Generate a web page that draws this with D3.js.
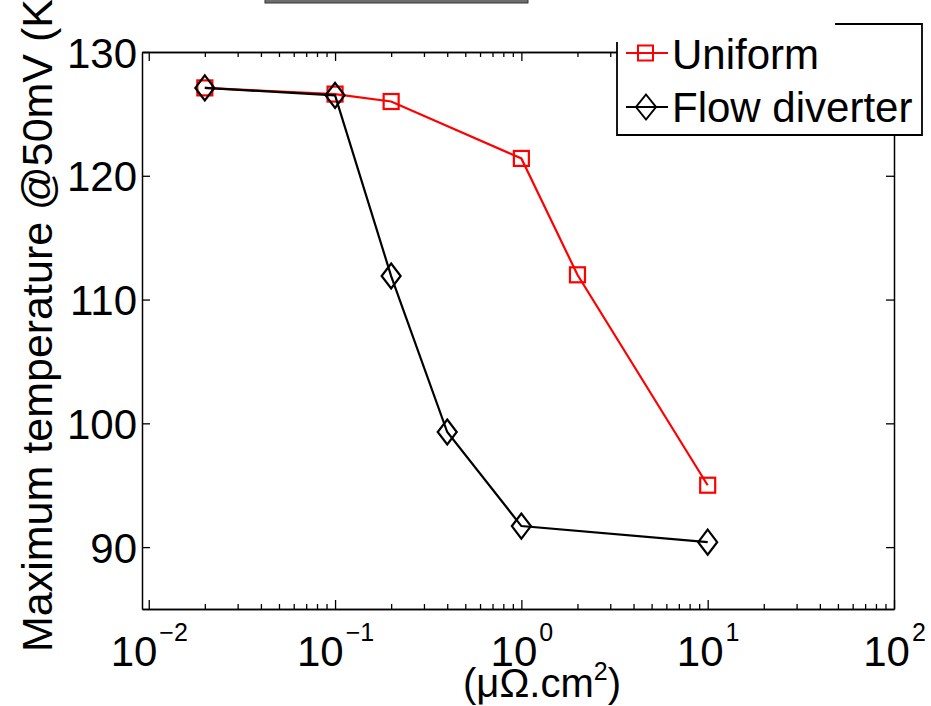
<!DOCTYPE html>
<html>
<head>
<meta charset="utf-8">
<script src="https://cdn.jsdelivr.net/npm/d3@7"></script>
<style>
  body { margin: 0; background: #fff; }
  svg { display: block; font-family: "Liberation Sans", Arial, Helvetica, sans-serif; }
</style>
</head>
<body>
<svg id="chart"></svg>
<script>
// data
const uniformX = [0.02, 0.1, 0.2, 1, 2, 10]
const uniformY = [127.1, 126.6, 126.0, 121.4, 112.0, 95.0]
const diverterX = [0.02, 0.1, 0.2, 0.4, 1, 10]
const diverterY = [127.1, 126.5, 111.9, 99.3, 91.7, 90.4]

const xMajor = [0.01, 0.1, 1, 10, 100]
const xExponents = ['\u22122', '\u22121', '0', '1', '2']
const yTicks = [90, 100, 110, 120, 130]
const seriesNames = ['Uniform', 'Flow diverter']
const xLabel = '(\u03bc\u03a9.cm'
const yLabel = 'Maximum temperature @50mV (K)'

const svgWidth = 931
const svgHeight = 706
const margin = { top: 52, right: 37, bottom: 97, left: 142 }
const width = svgWidth - margin.left - margin.right
const height = svgHeight - margin.top - margin.bottom

const svg = d3.select('#chart')
  .attr('width', svgWidth)
  .attr('height', svgHeight)

// the grey strip cut off at the top of the figure
svg.append('rect')
  .attr('x', 265).attr('y', -3)
  .attr('width', 263).attr('height', 6)
  .attr('fill', '#6e6e6e')
  .attr('stroke', '#333')
  .attr('stroke-width', 1)

const g = svg.append('g')
  .attr('transform', `translate(${margin.left}, ${margin.top})`)

const x = d3.scaleLog().domain([0.0092, 100]).range([0, width])
const y = d3.scaleLinear().domain([85, 130]).range([height, 0])

const minor = x.ticks().filter(v => !xMajor.some(m => Math.abs(m - v) < 1e-9))

function styleAxis (sel) {
  sel.select('.domain').attr('stroke', '#000').attr('stroke-width', 1.5)
  sel.selectAll('.tick line').attr('stroke', '#000').attr('stroke-width', 1.3)
  sel.selectAll('.tick text').remove()
}

// bottom axis, major + minor
g.append('g')
  .attr('transform', `translate(0, ${height})`)
  .call(d3.axisBottom(x).tickValues(minor).tickSizeInner(-5).tickSizeOuter(0))
  .call(styleAxis)
const xBottom = g.append('g')
  .attr('transform', `translate(0, ${height})`)
  .call(d3.axisBottom(x).tickValues(xMajor).tickSizeInner(-9).tickSizeOuter(0))
  .call(styleAxis)

// top axis
g.append('g')
  .call(d3.axisTop(x).tickValues(minor).tickSizeInner(-5).tickSizeOuter(0))
  .call(styleAxis)
g.append('g')
  .call(d3.axisTop(x).tickValues(xMajor).tickSizeInner(-9).tickSizeOuter(0))
  .call(styleAxis)

// left and right axes
const yLeft = g.append('g')
  .call(d3.axisLeft(y).tickValues(yTicks).tickSizeInner(-8).tickSizeOuter(0))
  .call(styleAxis)
g.append('g')
  .attr('transform', `translate(${width}, 0)`)
  .call(d3.axisRight(y).tickValues(yTicks).tickSizeInner(-8).tickSizeOuter(0))
  .call(styleAxis)

// x tick labels 10^n
xBottom.selectAll('.tick').each(function (d, i) {
  const t = d3.select(this).append('text')
    .attr('y', 57)
    .attr('text-anchor', 'middle')
    .attr('fill', '#000')
    .style('font-size', '42px')
  t.append('tspan').text('10')
  t.append('tspan')
    .attr('dy', -25)
    .attr('dx', 2)
    .style('font-size', '25px')
    .text(xExponents[i])
})

// y tick labels
yLeft.selectAll('.tick').append('text')
  .attr('x', -5)
  .attr('dy', '0.36em')
  .attr('text-anchor', 'end')
  .attr('fill', '#000')
  .style('font-size', '42px')
  .text(d => d)

// axis titles
const xt = svg.append('text')
  .attr('x', 542)
  .attr('y', 697)
  .attr('text-anchor', 'middle')
  .attr('fill', '#000')
  .style('font-size', '40px')
xt.append('tspan').text(xLabel)
xt.append('tspan').attr('dy', -17).style('font-size', '25px').text('2')
xt.append('tspan').attr('dy', 17).text(')')

svg.append('text')
  .attr('transform', 'translate(52, 652) rotate(-90)')
  .attr('text-anchor', 'start')
  .attr('fill', '#000')
  .style('font-size', '43px')
  .text(yLabel)

// series
const uniform = uniformX.map((v, i) => ({ x: v, y: uniformY[i] }))
const diverter = diverterX.map((v, i) => ({ x: v, y: diverterY[i] }))

const line = d3.line()
  .x(d => x(d.x))
  .y(d => y(d.y))

const diamond = (hw, hh) => `M0,${-hh}L${hw},0L0,${hh}L${-hw},0Z`

g.append('path')
  .datum(uniform)
  .attr('fill', 'none')
  .attr('stroke', '#ff0000')
  .attr('stroke-width', 2.2)
  .attr('d', line)
g.selectAll('.sq')
  .data(uniform)
  .enter().append('rect')
  .attr('x', d => x(d.x) - 7.5)
  .attr('y', d => y(d.y) - 7.5)
  .attr('width', 15)
  .attr('height', 15)
  .attr('fill', 'none')
  .attr('stroke', '#ff0000')
  .attr('stroke-width', 2.2)

g.append('path')
  .datum(diverter)
  .attr('fill', 'none')
  .attr('stroke', '#000')
  .attr('stroke-width', 2.2)
  .attr('d', line)
g.selectAll('.dm')
  .data(diverter)
  .enter().append('path')
  .attr('transform', d => `translate(${x(d.x)}, ${y(d.y)})`)
  .attr('d', diamond(9.5, 12.5))
  .attr('fill', 'none')
  .attr('stroke', '#000')
  .attr('stroke-width', 2.2)

// legend
const legend = svg.append('g')
legend.append('rect')
  .attr('x', 617).attr('y', 24)
  .attr('width', 305).attr('height', 111)
  .attr('fill', '#fff')
legend.append('path')
  .attr('d', 'M835,24H922V135H617V42')
  .attr('fill', 'none')
  .attr('stroke', '#000')
  .attr('stroke-width', 1.8)

const rows = [
  { name: seriesNames[0], color: '#ff0000', cy: 53, base: 69 },
  { name: seriesNames[1], color: '#000', cy: 107, base: 122 }
]
rows.forEach((r, i) => {
  legend.append('line')
    .attr('x1', 626).attr('x2', 668)
    .attr('y1', r.cy).attr('y2', r.cy)
    .attr('stroke', r.color)
    .attr('stroke-width', 2)
  if (i === 0) {
    legend.append('rect')
      .attr('x', 638).attr('y', r.cy - 7.5)
      .attr('width', 15).attr('height', 15)
      .attr('fill', 'none')
      .attr('stroke', r.color)
      .attr('stroke-width', 2)
  } else {
    legend.append('path')
      .attr('transform', `translate(646, ${r.cy})`)
      .attr('d', diamond(10, 12.5))
      .attr('fill', 'none')
      .attr('stroke', r.color)
      .attr('stroke-width', 2)
  }
  legend.append('text')
    .attr('x', 672).attr('y', r.base)
    .attr('fill', '#000')
    .style('font-size', '42px')
    .text(r.name)
})
</script>
</body>
</html>
